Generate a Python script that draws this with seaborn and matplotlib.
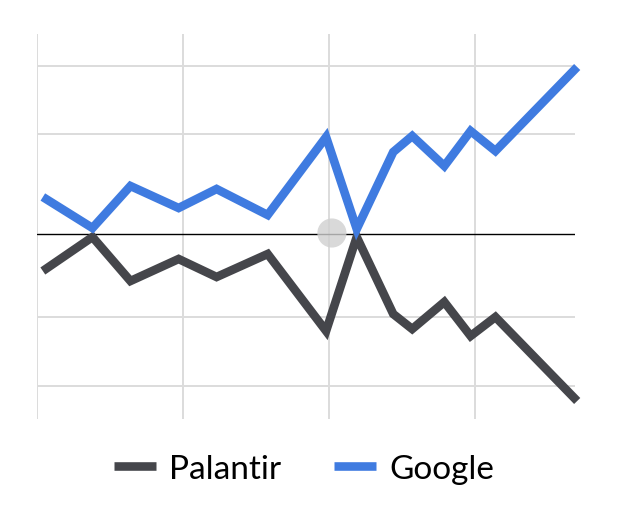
import numpy as np
import pandas as pd
import seaborn as sns
import matplotlib.pyplot as plt

# data (x: gridline spacing = 1, y: zero at the black line)
x_pos = [0.04, 0.38, 0.64, 0.97, 1.23, 1.58, 1.98, 2.19, 2.44, 2.57, 2.79, 2.97, 3.14, 3.70]
google = [37, 6, 48, 26, 45, 19, 97, 5, 82, 98, 68, 103, 83, 167]
palantir = [-37, -3, -47, -25, -43, -20, -97, -3, -80, -95, -68, -102, -83, -167]
series_names = ["Palantir", "Google"]
colors = {"Palantir": "#45464b", "Google": "#3f7be0"}
x_grid = [0, 1, 2, 3]
y_grid = [168, 100, -83, -152]
cursor = (2.02, 1)

df = pd.concat([
    pd.DataFrame({"x": x_pos, "value": palantir, "company": "Palantir"}),
    pd.DataFrame({"x": x_pos, "value": google, "company": "Google"}),
])

sns.set_style("white")
plt.rcParams['font.family'] = ['Lato', 'DejaVu Sans']

fig = plt.figure(figsize=(6.35, 5.1), dpi=100)
ax = fig.add_axes([37/635, 1-420/510, 538/635, 385/510])

for gx in x_grid:
    ax.axvline(gx, color="#dcdcdc", lw=1.4, zorder=0)
for gy in y_grid:
    ax.axhline(gy, color="#dcdcdc", lw=1.4, zorder=0)
ax.axhline(0, color="black", lw=1.0, zorder=1)

sns.lineplot(data=df, x="x", y="value", hue="company", hue_order=series_names,
             palette=colors, lw=6.2, ax=ax, legend=False, zorder=3, clip_on=False,
             solid_joinstyle="miter", solid_capstyle="butt")

ax.scatter([cursor[0]], [cursor[1]], s=440, color="#d0d0d0", alpha=0.8,
           edgecolor="none", zorder=2)

ax.set_xlim(0, 3.685)
ax.set_ylim(-185, 200)
ax.set_xticks([])
ax.set_yticks([])
ax.set_xlabel("")
ax.set_ylabel("")
sns.despine(ax=ax, left=True, bottom=True)

handles = [plt.Line2D([], [], color=colors[n], lw=6.2, solid_capstyle="butt")
           for n in series_names]
fig.legend(handles, series_names, loc="center", bbox_to_anchor=(304/635, 1-470/510),
           ncol=2, frameon=False, fontsize=24, handlelength=1.25,
           handletextpad=0.4, columnspacing=1.6, labelcolor="black")

fig.savefig("out.png", dpi=100, facecolor="white")
